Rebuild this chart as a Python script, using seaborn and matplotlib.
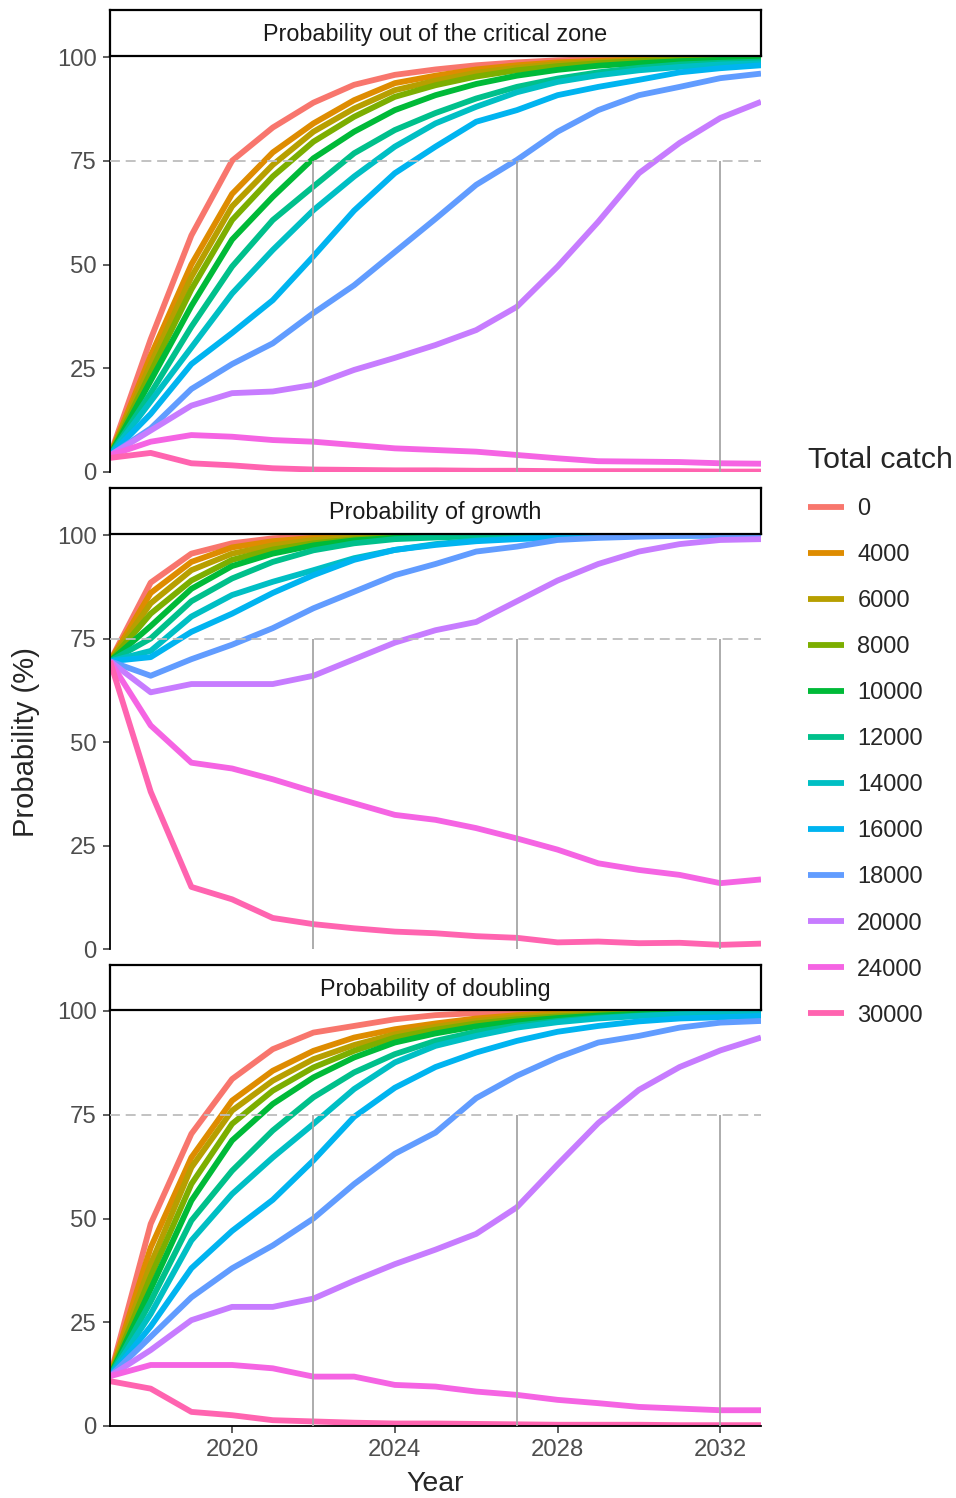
import numpy as np
import pandas as pd
import matplotlib
matplotlib.use("Agg")
import matplotlib.pyplot as plt
import seaborn as sns
from matplotlib.lines import Line2D

# --- data ---
years = list(range(2017, 2034))
catches = ["0", "4000", "6000", "8000", "10000", "12000", "14000",
           "16000", "18000", "20000", "24000", "30000"]
palette = ["#F8766D", "#DE8C00", "#B79F00", "#7CAE00", "#00BA38", "#00C08B",
           "#00BFC4", "#00B4F0", "#619CFF", "#C77CFF", "#F564E3", "#FF64B0"]
panel_titles = ["Probability out of the critical zone",
                "Probability of growth",
                "Probability of doubling"]

# one row per total catch, one value per year (%)
critical_zone = [
    [4, 32, 57, 75, 83, 89, 93.3, 95.7, 97, 98, 98.7, 99.2, 99.5, 99.7, 99.8, 99.9, 100],
    [4, 28, 50, 67, 77, 84, 89.6, 93.7, 95.5, 97, 98, 98.7, 99.1, 99.4, 99.6, 99.8, 99.9],
    [4, 26, 47, 64, 74, 82, 87.6, 92, 94.3, 96.2, 97.4, 98.3, 98.8, 99.2, 99.5, 99.7, 99.8],
    [4, 24, 44, 60.7, 71.2, 79.6, 85.6, 90.4, 93.2, 95.3, 96.8, 97.8, 98.5, 99, 99.3, 99.5, 99.7],
    [4, 22, 40, 56, 66.3, 75.6, 82, 87.2, 90.8, 93.5, 95.5, 96.9, 97.9, 98.5, 99, 99.3, 99.5],
    [4, 19, 35, 49.5, 60.7, 68.8, 76.8, 82.4, 86.5, 90, 92.8, 94.8, 96.3, 97.4, 98.2, 98.6, 98.9],
    [4, 17, 30, 43, 53.5, 63.1, 71.2, 78.4, 84, 88, 91.5, 94, 95.6, 96.8, 97.6, 98.2, 98.5],
    [4, 14, 26, 33.5, 41.4, 52, 63, 72, 78.4, 84.4, 87.2, 90.8, 92.8, 94.5, 96.3, 97.3, 98],
    [4, 10.5, 20, 26, 31, 38.3, 45, 53, 61, 69.2, 75.2, 82, 87.2, 90.8, 92.8, 94.9, 96],
    [4, 10, 16, 19, 19.4, 21, 24.6, 27.5, 30.6, 34.2, 39.8, 49.5, 60.3, 72, 79.3, 85.3, 89.2],
    [4, 7.3, 8.9, 8.5, 7.7, 7.3, 6.5, 5.7, 5.3, 4.9, 4.1, 3.3, 2.6, 2.5, 2.4, 2.1, 2],
    [3.4, 4.6, 2.1, 1.6, 0.9, 0.6, 0.5, 0.4, 0.4, 0.3, 0.3, 0.2, 0.2, 0.2, 0.2, 0.1, 0.1],
]

growth = [
    [69.5, 88.5, 95.5, 98, 99.2, 99.7, 99.9, 100, 100, 100, 100, 100, 100, 100, 100, 100, 100],
    [69.5, 86, 93.5, 97, 98.5, 99.3, 99.7, 99.9, 100, 100, 100, 100, 100, 100, 100, 100, 100],
    [69.5, 83.5, 91.5, 95.5, 97.5, 98.8, 99.4, 99.7, 99.9, 100, 100, 100, 100, 100, 100, 100, 100],
    [69.5, 81, 89, 94, 96.5, 98, 99, 99.5, 99.8, 99.9, 100, 100, 100, 100, 100, 100, 100],
    [69.5, 78, 87, 92.5, 95.5, 97.5, 98.7, 99.3, 99.6, 99.8, 99.9, 100, 100, 100, 100, 100, 100],
    [69.5, 75, 84, 89.5, 93.5, 96.3, 98, 99, 99.4, 99.7, 99.8, 99.9, 100, 100, 100, 100, 100],
    [69.5, 72, 80.3, 85.5, 88.7, 91.5, 94.4, 96.4, 97.8, 98.7, 99.2, 99.5, 99.7, 99.8, 99.9, 99.9, 100],
    [69.5, 70.5, 76.6, 81, 86, 90.3, 94, 96.4, 97.6, 98.5, 99, 99.4, 99.6, 99.8, 99.9, 99.9, 100],
    [69.5, 66, 70, 73.5, 77.5, 82.3, 86.3, 90.3, 93, 96, 97.2, 98.8, 99.3, 99.6, 99.8, 99.9, 99.9],
    [69.5, 62, 64, 64, 64, 66, 70, 74, 77, 79, 84, 89, 93, 96, 97.8, 98.8, 99],
    [69.5, 54, 45, 43.6, 41, 38, 35.2, 32.4, 31.2, 29.2, 26.7, 24, 20.7, 19.1, 17.9, 15.9, 16.8],
    [69.5, 38, 15, 12, 7.5, 6, 5, 4.2, 3.8, 3.1, 2.7, 1.6, 1.8, 1.4, 1.5, 1.0, 1.3],
]

doubling = [
    [12, 48.7, 70.4, 83.6, 90.8, 94.8, 96.4, 98, 99, 99.5, 99.7, 99.8, 99.9, 100, 100, 100, 100],
    [12, 43, 64.7, 78.4, 85.6, 90.4, 93.6, 95.6, 97, 98.2, 99, 99.4, 99.7, 99.8, 99.9, 99.9, 100],
    [12, 39, 62.3, 76, 83.2, 88.4, 91.8, 94.4, 96.2, 97.6, 98.5, 99.1, 99.4, 99.6, 99.8, 99.9, 99.9],
    [12, 36, 58.3, 72.8, 80.8, 86.4, 90.4, 93.6, 95.5, 97, 98, 98.7, 99.2, 99.5, 99.7, 99.8, 99.9],
    [12, 33, 54.3, 68.8, 77.6, 84, 88.8, 92.4, 94.6, 96.3, 97.5, 98.3, 98.9, 99.3, 99.5, 99.7, 99.8],
    [12, 30, 49.5, 61.5, 71.2, 79.2, 85.2, 89.6, 92.8, 95, 96.5, 97.6, 98.4, 98.9, 99.2, 99.4, 99.6],
    [12, 27, 44.7, 55.9, 64.7, 72.8, 81.2, 87.6, 91.6, 94, 96, 97.3, 98.2, 98.8, 99.2, 99.5, 99.7],
    [12, 24, 38, 47, 54.5, 64, 74.5, 81.5, 86.5, 90, 92.8, 95, 96.4, 97.5, 98.2, 98.5, 98.8],
    [12, 21.5, 31, 38, 43.5, 50, 58.3, 65.6, 70.7, 79, 84.4, 88.8, 92.4, 94, 96, 97.2, 97.6],
    [12, 18.3, 25.5, 28.7, 28.7, 30.7, 35, 39, 42.5, 46.3, 52.7, 63, 73, 81, 86.5, 90.5, 93.6],
    [12, 14.7, 14.7, 14.7, 13.9, 11.9, 11.9, 9.9, 9.5, 8.3, 7.5, 6.3, 5.5, 4.6, 4.2, 3.8, 3.8],
    [10.8, 9, 3.4, 2.6, 1.4, 1.1, 0.8, 0.6, 0.6, 0.5, 0.4, 0.3, 0.3, 0.3, 0.2, 0.2, 0.2],
]

ref_level = 75
ref_years = [2022, 2027, 2032]

# long table for seaborn
rows = []
for title, block in zip(panel_titles, [critical_zone, growth, doubling]):
    for catch, values in zip(catches, block):
        for yr, v in zip(years, values):
            rows.append((title, catch, yr, v))
df = pd.DataFrame(rows, columns=["panel", "Total catch", "Year", "Probability"])

sns.set_theme(style="ticks")
plt.rcParams["font.family"] = ["Liberation Sans", "DejaVu Sans"]
plt.rcParams["lines.solid_capstyle"] = "butt"

W, H = 956, 1498
fig = plt.figure(figsize=(W / 100, H / 100), dpi=100)


def px_axes(left, top, right, bottom):
    return fig.add_axes([left / W, 1 - bottom / H, (right - left) / W, (bottom - top) / H])


panel_px = [(57, 472), (535, 949), (1011, 1426)]
strip_px = [(10, 56), (488, 534), (965, 1010)]
x_left, x_right = 110, 761
line_w = 4.2

for i, title in enumerate(panel_titles):
    top, bottom = panel_px[i]
    ax = px_axes(x_left, top, x_right, bottom)
    sub = df[df["panel"] == title]
    sns.lineplot(data=sub, x="Year", y="Probability", hue="Total catch",
                 hue_order=catches, palette=palette, lw=line_w, estimator=None,
                 legend=False, ax=ax)
    ax.axhline(ref_level, color="#BDBDBD", lw=1.3, ls=(0, (5.5, 3.2)), zorder=5)
    ax.vlines(ref_years, 0, ref_level, color="#A6A6A6", lw=1.3, zorder=5)

    ax.set_xlim(2017, 2033)
    ax.set_ylim(0, 100)
    ax.set_yticks([0, 25, 50, 75, 100])
    ax.set_xticks([2020, 2024, 2028, 2032])
    ax.set_xlabel("")
    ax.set_ylabel("")
    for s in ["top", "right"]:
        ax.spines[s].set_visible(False)
    ax.spines["left"].set_linewidth(1.3)
    ax.spines["left"].set_color("black")
    ax.tick_params(axis="y", length=5, width=1.1, color="#333333",
                   labelsize=17.2, labelcolor="#4D4D4D", pad=4.5)
    if i < 2:
        ax.spines["bottom"].set_visible(False)
        ax.tick_params(axis="x", bottom=False, labelbottom=False)
    else:
        ax.spines["bottom"].set_linewidth(1.3)
        ax.spines["bottom"].set_color("black")
        ax.tick_params(axis="x", length=5, width=1.1, color="#333333",
                       labelsize=17.2, labelcolor="#4D4D4D", pad=4.5)

    # facet strip
    s_top, s_bot = strip_px[i]
    sax = px_axes(x_left, s_top, x_right, s_bot)
    sax.set_xticks([])
    sax.set_yticks([])
    sax.set_facecolor("white")
    for sp in sax.spines.values():
        sp.set_visible(True)
        sp.set_linewidth(1.6)
        sp.set_color("black")
    sax.text(0.5, 0.46, title, ha="center", va="center", fontsize=16.8,
             color="#1A1A1A", transform=sax.transAxes)

fig.text(26 / W, 1 - 742 / H, "Probability (%)", rotation=90,
         ha="center", va="center", fontsize=21)
fig.text(435 / W, 1 - 1484 / H, "Year", ha="center", va="center", fontsize=20.5)

handles = [Line2D([0], [0], color=c, lw=line_w) for c in palette]
fig.legend(handles, catches, title="Total catch", loc="upper left",
           bbox_to_anchor=(803 / W, 1 - 441 / H), frameon=False,
           fontsize=17, title_fontsize=21.8, handlelength=1.55,
           handletextpad=0.55, labelspacing=1.02, alignment="left",
           borderaxespad=0, borderpad=0.2)

fig.savefig("out.png", dpi=100)
